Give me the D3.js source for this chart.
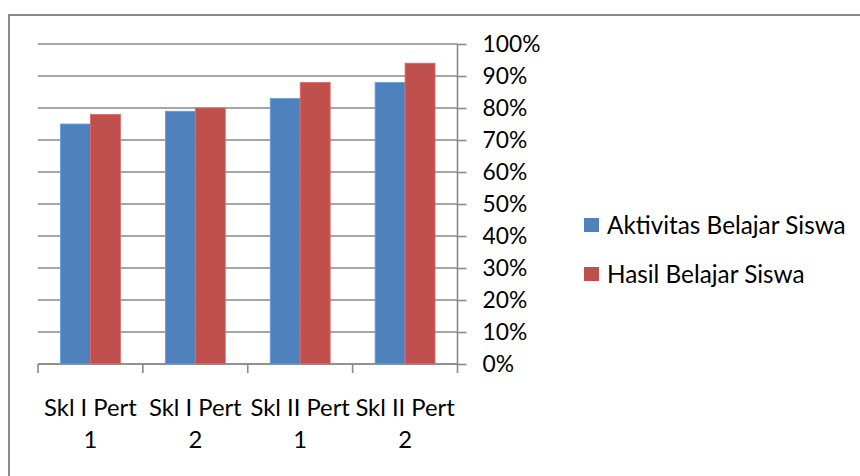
<!DOCTYPE html>
<html>
<head>
<meta charset="utf-8">
<script src="https://cdnjs.cloudflare.com/ajax/libs/d3/7.8.5/d3.min.js"></script>
<style>
  html, body { margin: 0; padding: 0; background: #fff; }
  svg { display: block; }
  text { font-family: Lato, "Open Sans", sans-serif; fill: #000; }
</style>
</head>
<body>
<svg id="chart" width="860" height="476"></svg>
<script>
const categories = [["Skl I Pert", "1"], ["Skl I Pert", "2"], ["Skl II Pert", "1"], ["Skl II Pert", "2"]];
const seriesNames = ["Aktivitas Belajar Siswa", "Hasil Belajar Siswa"];
const aktivitas = [0.75, 0.79, 0.83, 0.88];
const hasil = [0.78, 0.80, 0.88, 0.94];
const yTicks = [0, 0.1, 0.2, 0.3, 0.4, 0.5, 0.6, 0.7, 0.8, 0.9, 1.0];
const colors = ["#4F81BD", "#C0504D"];

const svg = d3.select("#chart");
const FS = 23.3;

// outer frame
svg.append("rect").attr("x", 9).attr("y", 15).attr("width", 900).attr("height", 500)
  .attr("fill", "none").attr("stroke", "#8a8a8a").attr("stroke-width", 2);

const pLeft = 38, pRight = 457.5, pTop = 44, pBottom = 364;
const x = d3.scaleBand().domain(d3.range(categories.length)).range([pLeft, pRight]).paddingInner(0).paddingOuter(0);
const y = d3.scaleLinear().domain([0, 1]).range([pBottom, pTop]);

// gridlines
svg.append("g").selectAll("line").data(yTicks).join("line")
  .attr("x1", pLeft).attr("x2", pRight)
  .attr("y1", d => y(d)).attr("y2", d => y(d))
  .attr("stroke", "#8a8a8a").attr("stroke-width", 1.6);

// bars
const bw = x.bandwidth() / 3.5;
const series = [aktivitas, hasil];
series.forEach((vals, si) => {
  svg.append("g").selectAll("rect").data(vals).join("rect")
    .attr("x", (d, i) => x(i) + x.bandwidth() / 2 - bw + si * bw)
    .attr("y", d => y(d))
    .attr("width", bw)
    .attr("height", d => y(0) - y(d))
    .attr("fill", colors[si])
    .attr("stroke", d3.color(colors[si]).brighter(0.6))
    .attr("stroke-width", 0.8);
});

// right y axis
const yAxis = d3.axisRight(y).tickValues(yTicks).tickSize(9).tickFormat(d3.format(".0%")).tickPadding(16);
const ya = svg.append("g").attr("transform", `translate(${pRight},0)`).call(yAxis);
ya.select(".domain").attr("stroke", "#8a8a8a").attr("stroke-width", 1.6).attr("d", `M0,${pTop}V${pBottom}`);
ya.selectAll(".tick line").attr("stroke", "#8a8a8a").attr("stroke-width", 1.6);
ya.selectAll(".tick text").attr("font-size", FS - 0.5).attr("font-family", "Lato").attr("fill", "#000")
  .attr("dy", "0.35em");

// x axis baseline and ticks
svg.append("line").attr("x1", pLeft).attr("x2", pRight).attr("y1", pBottom).attr("y2", pBottom)
  .attr("stroke", "#8a8a8a").attr("stroke-width", 1.6);
const bounds = d3.range(categories.length + 1).map(i => i < categories.length ? x(i) : pRight);
svg.append("g").selectAll("line").data(bounds).join("line")
  .attr("x1", d => d).attr("x2", d => d).attr("y1", pBottom).attr("y2", pBottom + 9)
  .attr("stroke", "#8a8a8a").attr("stroke-width", 1.6);

// category labels
const cl = svg.append("g").selectAll("text").data(categories).join("text")
  .attr("text-anchor", "middle").attr("font-size", FS + 0.5);
cl.append("tspan").attr("x", (d, i) => x(i) + x.bandwidth() / 2).attr("y", 416).text(d => d[0]);
cl.append("tspan").attr("x", (d, i) => x(i) + x.bandwidth() / 2).attr("y", 448).text(d => d[1]);

// legend
const lg = svg.append("g").selectAll("g").data(seriesNames).join("g")
  .attr("transform", (d, i) => `translate(584,${225 + i * 49})`);
lg.append("rect").attr("x", 0).attr("y", -7).attr("width", 15).attr("height", 14)
  .attr("fill", (d, i) => colors[i]);
lg.append("text").attr("x", 23).attr("y", 0).attr("dy", "0.35em").attr("font-size", FS + 1).text(d => d);
</script>
</body>
</html>
